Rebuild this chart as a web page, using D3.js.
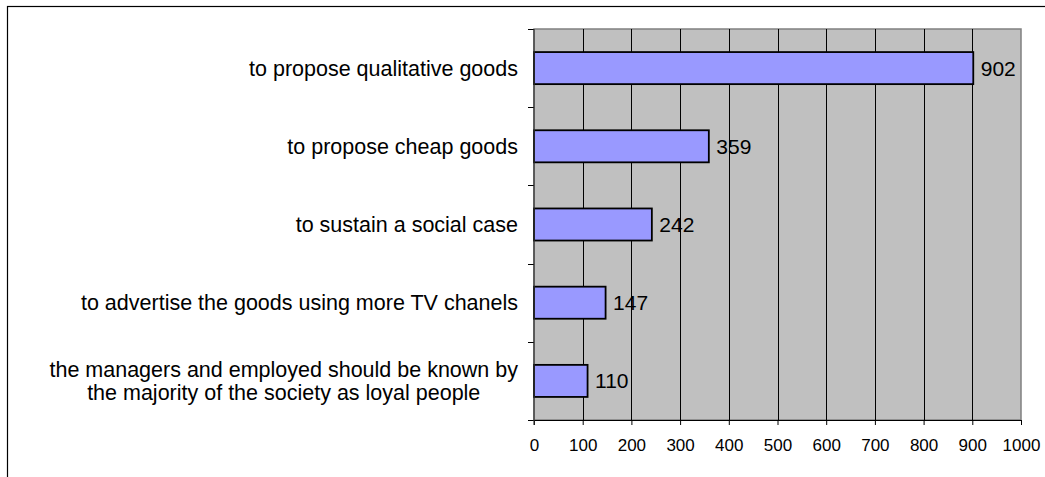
<!DOCTYPE html>
<html>
<head>
<meta charset="utf-8">
<script src="https://cdn.jsdelivr.net/npm/d3@7"></script>
<style>
  body { margin: 0; background: #fff; }
  svg { display: block; font-family: "Liberation Sans", Arial, sans-serif; }
</style>
</head>
<body>
<svg id="chart" width="1045" height="477"></svg>
<script>
// data
const categories = [
  ["to propose qualitative goods"],
  ["to propose cheap goods"],
  ["to sustain a social case"],
  ["to advertise the goods using more TV chanels"],
  ["the managers and employed should be known by", "the majority of the society as loyal people"]
];
const values = [902, 359, 242, 147, 110];
const xTicks = [0, 100, 200, 300, 400, 500, 600, 700, 800, 900, 1000];

const svg = d3.select("#chart");
const plotL = 534, plotR = 1021, plotT = 29, plotB = 420;

// outer frame (cut off at right and bottom)
svg.append("rect")
  .attr("x", 7.5).attr("y", 6.5)
  .attr("width", 1100).attr("height", 600)
  .attr("fill", "none").attr("stroke", "#000").attr("stroke-width", 1.2);

const x = d3.scaleLinear().domain([0, 1000]).range([plotL, plotR]);
const y = d3.scaleBand().domain(d3.range(categories.length)).range([plotT, plotB]).padding(0);
const barH = y.bandwidth() * 0.41;

// plot background
svg.append("rect")
  .attr("x", plotL).attr("y", plotT)
  .attr("width", plotR - plotL).attr("height", plotB - plotT)
  .attr("fill", "#c0c0c0").attr("stroke", "#808080").attr("stroke-width", 1.5);

// vertical gridlines
svg.append("g").selectAll("line")
  .data(xTicks.filter(d => d > 0 && d < 1000))
  .join("line")
  .attr("x1", d => Math.round(x(d)) + 0.5).attr("x2", d => Math.round(x(d)) + 0.5)
  .attr("y1", plotT).attr("y2", plotB)
  .attr("stroke", "#000").attr("stroke-width", 1);

// bars
svg.append("g").selectAll("rect")
  .data(values)
  .join("rect")
  .attr("x", x(0))
  .attr("y", (d, i) => y(i) + (y.bandwidth() - barH) / 2)
  .attr("width", d => x(d) - x(0))
  .attr("height", barH)
  .attr("fill", "#9999ff")
  .attr("stroke", "#000").attr("stroke-width", 1.8);

// value labels
svg.append("g").selectAll("text")
  .data(values)
  .join("text")
  .attr("x", d => x(d) + 7.5)
  .attr("y", (d, i) => y(i) + y.bandwidth() / 2)
  .attr("dy", "0.36em")
  .attr("font-size", 21)
  .attr("fill", "#000")
  .text(d => d);

// x axis
const xAxis = svg.append("g")
  .attr("transform", "translate(0," + plotB + ")")
  .call(d3.axisBottom(x).tickValues(xTicks).tickFormat(d3.format("d"))
    .tickSize(5).tickSizeOuter(0).tickPadding(14));
xAxis.select(".domain").attr("stroke", "#000").attr("stroke-width", 1.2);
xAxis.selectAll(".tick line").attr("stroke", "#000");
xAxis.selectAll(".tick text").attr("font-size", 17).attr("font-family", "Liberation Sans, Arial, sans-serif").attr("fill", "#000");

// y ticks on band edges
const edges = d3.range(categories.length + 1).map(i => plotT + i * y.step());
svg.append("g").selectAll("line")
  .data(edges)
  .join("line")
  .attr("x1", plotL - 6).attr("x2", plotL)
  .attr("y1", d => Math.round(d) + 0.5).attr("y2", d => Math.round(d) + 0.5)
  .attr("stroke", "#000");
svg.append("line")
  .attr("x1", plotL).attr("x2", plotL).attr("y1", plotT).attr("y2", plotB + 5)
  .attr("stroke", "#333").attr("stroke-width", 1.2);

// category labels
const labelRight = 518, lineH = 23.5;
categories.forEach((lines, i) => {
  const cy = y(i) + y.bandwidth() / 2;
  const t = svg.append("text").attr("font-size", 21.5).attr("fill", "#000");
  lines.forEach((ln, j) => {
    t.append("tspan")
      .attr("y", cy + (j - (lines.length - 1) / 2) * lineH)
      .attr("dy", "0.36em")
      .text(ln);
  });
  if (lines.length === 1) {
    t.attr("text-anchor", "end").selectAll("tspan").attr("x", labelRight);
  } else {
    let w = 0;
    t.selectAll("tspan").each(function() { w = Math.max(w, this.getComputedTextLength()); });
    t.attr("text-anchor", "middle").selectAll("tspan").attr("x", labelRight - w / 2);
  }
});
</script>
</body>
</html>
